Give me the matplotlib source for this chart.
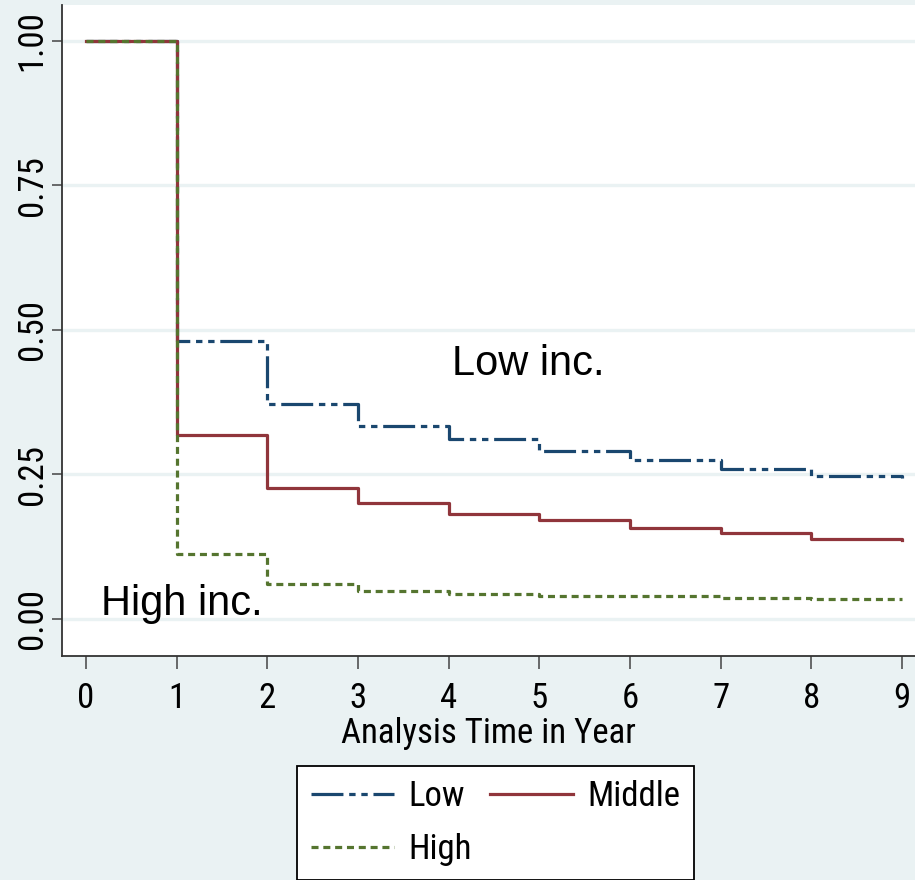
import matplotlib
matplotlib.use('Agg')
import matplotlib.pyplot as plt
from matplotlib import font_manager

# survival estimates (step function, value holds from t to t+1)
years = [0, 1, 2, 3, 4, 5, 6, 7, 8, 9]
low = [1.0, 0.481, 0.372, 0.333, 0.311, 0.291, 0.275, 0.260, 0.248, 0.244]
middle = [1.0, 0.318, 0.227, 0.200, 0.182, 0.171, 0.157, 0.148, 0.139, 0.136]
high = [1.0, 0.113, 0.060, 0.049, 0.044, 0.040, 0.040, 0.036, 0.034, 0.034]
yticks = [0.0, 0.25, 0.5, 0.75, 1.0]
ytick_labels = ['0.00', '0.25', '0.50', '0.75', '1.00']

# look for a narrow / condensed regular face
files = [f.fname for f in font_manager.fontManager.ttflist]
def pick():
    keys = ['LiberationSansNarrow-Regular', 'ArialNarrow', 'RobotoCondensed-Regular',
            'OpenSansCondensed', 'OpenSans_Condensed-Regular', 'DejaVuSansCondensed.ttf',
            'NotoSans-Condensed.', 'NotoSans-CondensedRegular', 'Condensed', 'Narrow']
    for k in keys:
        for fn in files:
            base = fn.split('/')[-1]
            if k in base and 'Bold' not in base and 'Italic' not in base \
                    and 'Oblique' not in base and 'Light' not in base and 'Semi' not in base:
                return fn
    return None
nfile = pick()

def nfont(size):
    if nfile:
        return font_manager.FontProperties(fname=nfile, size=size)
    return font_manager.FontProperties(family='Liberation Sans', stretch='condensed', size=size)

bg = '#EAF2F3'
navy = '#1A476F'
maroon = '#90353B'
green = '#55752F'

fig = plt.figure(figsize=(9.15, 8.8), dpi=100, facecolor=bg)
ax = fig.add_axes([62/915, 1-656/880, 1-62/915, (656-5)/880])
ax.set_facecolor('white')

lw = 2.3
l1, = ax.plot(years, low, drawstyle='steps-post', color=navy, lw=lw,
              dashes=(10, 1.8, 2, 1.8, 2, 1.8), label='Low')
l2, = ax.plot(years, middle, drawstyle='steps-post', color=maroon, lw=lw, label='Middle')
l3, = ax.plot(years, high, drawstyle='steps-post', color=green, lw=lw,
              dashes=(2.2, 1.5), label='High')

ax.set_xlim(-0.265, 9.143)
ax.set_ylim(-0.064, 1.062)
ax.set_yticks(yticks)
ax.set_yticklabels(ytick_labels, rotation=90, va='center', fontproperties=nfont(25))
ax.set_xticks(years)
ax.set_xticklabels([str(y) for y in years], fontproperties=nfont(25))
ax.tick_params(axis='y', length=7.5, width=1.1, color='#444444', pad=2)
ax.tick_params(axis='x', length=9, width=1.1, color='#444444', pad=10)
ax.grid(axis='y', color=bg, lw=2.4, zorder=0)
ax.set_axisbelow(True)

for s in ['top', 'right']:
    ax.spines[s].set_visible(False)
for s in ['left', 'bottom']:
    ax.spines[s].set_color('#333333')
    ax.spines[s].set_linewidth(1.3)

ax.set_xlabel('Analysis Time in Year', fontproperties=nfont(25), labelpad=1)

ax.text(4.04, 0.422, 'Low inc.', family='Liberation Sans', fontsize=30)
ax.text(0.17, 0.007, 'High inc.', family='Liberation Sans', fontsize=30)

leg = fig.legend([l1, l3, l2], ['Low', 'High', 'Middle'], ncol=2,
                 loc='upper left', bbox_to_anchor=(297/915, 1-766/880),
                 bbox_transform=fig.transFigure, borderaxespad=0,
                 prop=nfont(25), frameon=True, fancybox=False,
                 edgecolor='black', facecolor='white', framealpha=1,
                 handlelength=2.4, handletextpad=0.42, columnspacing=0.5,
                 labelspacing=0.58, borderpad=0.4)
leg.get_frame().set_linewidth(1.3)

fig.savefig('out.png', dpi=100, facecolor=bg)
